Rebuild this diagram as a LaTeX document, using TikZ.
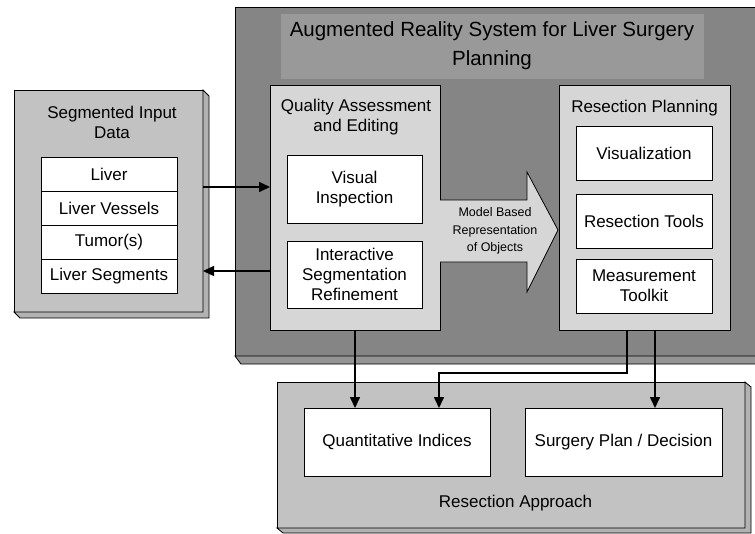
\documentclass[tikz,border=0pt]{standalone}
\usepackage{fontspec}
\setmainfont{Liberation Sans}
\usetikzlibrary{arrows.meta,positioning,calc}

\begin{document}
\begin{tikzpicture}[x=1pt,y=-1pt,
  box/.style={draw,line width=0.8pt,rectangle,inner sep=0pt,outer sep=0pt},
  hatch/.style={box,fill=black!48},
  face/.style={box,fill=black!24},
  panel/.style={box,fill=black!16},
  side/.style={draw,line width=0.8pt,fill=black!30},
  item/.style={box,fill=white,align=center,font=\fontsize{17}{20}\selectfont},
  row/.style={item,minimum width=136,minimum height=34},
  lbl/.style={align=center,font=\fontsize{17}{20}\selectfont},
  conn/.style={line width=1.6pt,-{Triangle[length=11pt,width=10pt]}}]
\useasboundingbox (0,0) rectangle (755,533);
\clip (0,0) rectangle (755,533);

% the system block
\node[hatch,minimum width=535,minimum height=349] (sys) at (502.5,181.5) {};
\draw[side,fill=black!42] (sys.south west) -- ++(6,8) -- ($(sys.south east)+(6,8)$) -- (sys.south east) -- cycle;
\node[lbl,font=\fontsize{20.5}{29}\selectfont,fill=black!40,minimum width=423,minimum height=65,inner sep=0pt]
  (title) at (492,46) {Augmented Reality System for Liver Surgery\\Planning};

% input data
\node[face,minimum width=189,minimum height=222] (in) at (108.5,201) {};
\draw[side] (in.north east) -- ++(6,6) -- ($(in.south east)+(6,6)$) -- ($(in.south west)+(6,6)$)
  -- (in.south west) -- (in.south east) -- cycle;
\node[lbl] (intitle) at (112,122) {Segmented Input\\Data};
\node[row] (liver) at (109,174) {Liver};
\node[row,below=0pt of liver] (vessels) {Liver Vessels};
\node[row,below=0pt of vessels] (tumor) {Tumor(s)};
\node[row,below=0pt of tumor] (segs) {Liver Segments};

% quality assessment
\node[panel,minimum width=170,minimum height=245] (qa) at (355,207.5) {};
\node[lbl] (qatitle) at (356,117) {Quality Assessment\\and Editing};
\node[item,minimum width=135,minimum height=68] (vi) at (354.5,189) {Visual\\Inspection};
\node[item,minimum width=135,minimum height=67] (isr) at (354.5,274.5) {Interactive\\Segmentation\\Refinement};

% resection planning
\node[panel,minimum width=171,minimum height=245] (rp) at (644.5,207.5) {};
\node[lbl] (rptitle) at (644.5,108) {Resection Planning};
\node[item,minimum width=136,minimum height=54] (visu) at (644,153) {Visualization};
\node[item,minimum width=136,minimum height=54] (tools) at (644,221) {Resection Tools};
\node[item,minimum width=136,minimum height=54] (meas) at (644,286) {Measurement\\Toolkit};

% model arrow
\draw[line width=0.8pt,fill=black!16] (qa.east |- 0,200) -- (527,200) -- (527,172) -- ([xshift=-1]rp.west |- 0,230)
  -- (527,292) -- (527,262) -- (qa.east |- 0,262);
\node[align=center,font=\fontsize{12.5}{17.5}\selectfont] (model) at (495,231) {Model Based\\Representation\\of Objects};

% resection approach
\node[face,minimum width=468,minimum height=146] (app) at (511,455) {};
\draw[side] (app.north east) -- ++(6,5) -- ($(app.south east)+(6,5)$) -- ($(app.south west)+(6,5)$)
  -- (app.south west) -- (app.south east) -- cycle;
\node[item,minimum width=186,minimum height=68] (qi) at (397,442) {Quantitative Indices};
\node[item,minimum width=197,minimum height=68] (sp) at (623.5,442) {Surgery Plan / Decision};
\node[lbl] (apptitle) at (515.5,503) {Resection Approach};

% connectors
\draw[conn] (in.east |- 0,187) -- (qa.west |- 0,187);
\draw[conn] (qa.west |- 0,271) -- (in.east |- 0,271);
\draw[conn] (qa.south) -- (qa.south |- qi.north);
\draw[conn] ([xshift=-17.5]rp.south) |- ([xshift=42]qi.north |- 0,373) -- ([xshift=42]qi.north);
\draw[conn] ([xshift=10.5]rp.south) -- ([xshift=10.5]rp.south |- sp.north);
\end{tikzpicture}
\end{document}
